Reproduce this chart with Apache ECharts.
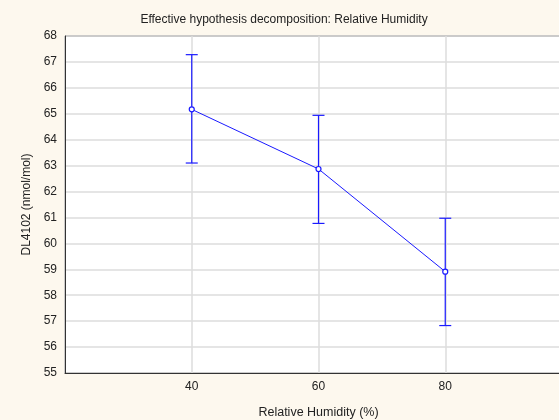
<!DOCTYPE html>
<html>
<head>
<meta charset="utf-8">
<script src="https://cdn.jsdelivr.net/npm/echarts@6/dist/echarts.min.js"></script>
<style>
  html, body { margin: 0; padding: 0; overflow: hidden; background: #fdf8ee; }
  #chart { width: 600px; height: 420px; }
</style>
</head>
<body>
<div id="chart"></div>
<script>
// Relative humidity levels (%)
const humidity = [40, 60, 80];
// Estimated DL4102 means (nmol/mol)
const means = [65.17, 62.87, 58.91];
// Upper and lower confidence limits
const upper = [67.28, 64.94, 60.97];
const lower = [63.10, 60.77, 56.83];

const chart = echarts.init(document.getElementById('chart'), null, { renderer: 'canvas' });

const font = 'Liberation Sans, Arial, sans-serif';
const blue = '#1a1aff';
const textColor = '#222';

const lineData = humidity.map((h, i) => [h, means[i]]);
const errData = humidity.map((h, i) => [h, lower[i], upper[i]]);

chart.setOption({
  backgroundColor: '#fdf8ee',
  animation: false,
  title: {
    text: 'Effective hypothesis decomposition: Relative Humidity',
    left: 279,
    textAlign: 'center',
    top: 9,
    textStyle: { fontFamily: font, fontSize: 12, fontWeight: 'normal', color: textColor }
  },
  grid: {
    left: 65, top: 36, width: 507, height: 337,
    outerBoundsMode: 'none',
    containLabel: false,
    show: true, backgroundColor: '#ffffff', borderColor: '#333', borderWidth: 1
  },
  xAxis: {
    type: 'value', min: 20, max: 100, interval: 20,
    name: 'Relative Humidity (%)',
    nameLocation: 'middle', nameGap: 33,
    nameTextStyle: { fontFamily: font, fontSize: 12.5, color: textColor },
    axisLine: { show: true, lineStyle: { color: '#333', width: 1 } },
    axisTick: { show: false },
    axisLabel: { fontFamily: font, fontSize: 12, color: textColor, margin: 8, showMinLabel: false, showMaxLabel: false },
    splitLine: { show: true, lineStyle: { color: '#dcdcdc', width: 1.5 } }
  },
  yAxis: {
    type: 'value', min: 55, max: 68, interval: 1,
    name: 'DL4102 (nmol/mol)',
    nameLocation: 'middle', nameGap: 31, nameRotate: 90,
    nameTextStyle: { fontFamily: font, fontSize: 12, color: textColor },
    axisLine: { show: true, lineStyle: { color: '#333', width: 1 } },
    axisTick: { show: false },
    axisLabel: { fontFamily: font, fontSize: 12, color: textColor, margin: 8 },
    splitLine: { show: true, lineStyle: { color: '#dcdcdc', width: 1.5 } }
  },
  series: [
    {
      type: 'custom',
      data: errData,
      z: 3,
      renderItem: function (params, api) {
        const x = api.value(0);
        const lo = api.coord([x, api.value(1)]);
        const hi = api.coord([x, api.value(2)]);
        const cap = 6;
        const style = { stroke: blue, lineWidth: 1.2 };
        return {
          type: 'group',
          children: [
            { type: 'line', shape: { x1: lo[0], y1: lo[1], x2: hi[0], y2: hi[1] }, style: style },
            { type: 'line', shape: { x1: hi[0] - cap, y1: hi[1], x2: hi[0] + cap, y2: hi[1] }, style: style },
            { type: 'line', shape: { x1: lo[0] - cap, y1: lo[1], x2: lo[0] + cap, y2: lo[1] }, style: style }
          ]
        };
      }
    },
    {
      type: 'line',
      data: lineData,
      z: 4,
      symbol: 'circle',
      symbolSize: 5,
      itemStyle: { color: '#ffffff', borderColor: blue, borderWidth: 1.2 },
      lineStyle: { color: blue, width: 1 }
    }
  ]
});
</script>
</body>
</html>
